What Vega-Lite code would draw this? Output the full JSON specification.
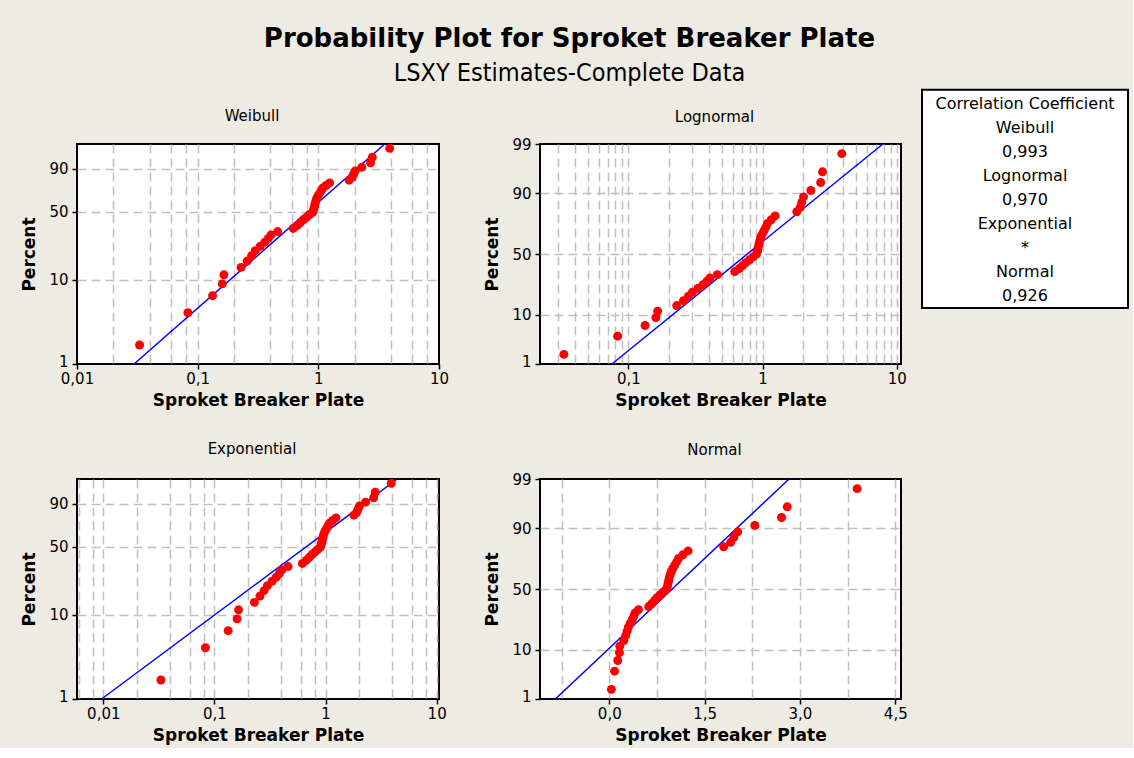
{
  "$schema": "https://vega.github.io/schema/vega-lite/v6.json",
  "background": "#eeebe2",
  "padding": {"left": 19, "top": 25, "right": 4, "bottom": 4},
  "title": {
    "text": "Probability Plot for Sproket Breaker Plate",
    "subtitle": "LSXY Estimates-Complete Data",
    "font": "DejaVu Sans", "fontSize": 26, "fontWeight": "bold", "color": "black",
    "subtitleFont": "DejaVu Sans Condensed, DejaVu Sans", "subtitleFontSize": 25, "subtitleColor": "black", "subtitleFontWeight": "normal",
    "subtitlePadding": 9, "anchor": "middle", "offset": 3, "dx": -5
  },
  "datasets": {
    "pts": [
      {"t":0.033,"pct":1.69,"w":-4.0714,"z":-2.1222},
      {"t":0.083,"pct":4.11,"w":-3.1717,"z":-1.7385},
      {"t":0.133,"pct":6.52,"w":-2.6966,"z":-1.5124},
      {"t":0.16,"pct":8.94,"w":-2.3685,"z":-1.3446},
      {"t":0.165,"pct":11.35,"w":-2.1161,"z":-1.208},
      {"t":0.229,"pct":13.77,"w":-1.9096,"z":-1.0908},
      {"t":0.257,"pct":16.18,"w":-1.7341,"z":-0.987},
      {"t":0.28,"pct":18.6,"w":-1.581,"z":-0.8928},
      {"t":0.3,"pct":21.01,"w":-1.4444,"z":-0.8059},
      {"t":0.33,"pct":23.43,"w":-1.3207,"z":-0.7248},
      {"t":0.36,"pct":25.85,"w":-1.2073,"z":-0.6481},
      {"t":0.385,"pct":28.26,"w":-1.1023,"z":-0.5751},
      {"t":0.405,"pct":30.68,"w":-1.0041,"z":-0.5051},
      {"t":0.46,"pct":33.09,"w":-0.9117,"z":-0.4374},
      {"t":0.62,"pct":35.51,"w":-0.8242,"z":-0.3717},
      {"t":0.67,"pct":37.92,"w":-0.7407,"z":-0.3075},
      {"t":0.71,"pct":40.34,"w":-0.6608,"z":-0.2446},
      {"t":0.75,"pct":42.75,"w":-0.5838,"z":-0.1827},
      {"t":0.8,"pct":45.17,"w":-0.5093,"z":-0.1214},
      {"t":0.85,"pct":47.58,"w":-0.437,"z":-0.0606},
      {"t":0.9,"pct":50,"w":-0.3665,"z":0},
      {"t":0.915,"pct":52.42,"w":-0.2974,"z":0.0606},
      {"t":0.925,"pct":54.83,"w":-0.2296,"z":0.1214},
      {"t":0.935,"pct":57.25,"w":-0.1627,"z":0.1827},
      {"t":0.945,"pct":59.66,"w":-0.0966,"z":0.2446},
      {"t":0.96,"pct":62.08,"w":-0.0308,"z":0.3075},
      {"t":0.975,"pct":64.49,"w":0.0348,"z":0.3717},
      {"t":1,"pct":66.91,"w":0.1007,"z":0.4374},
      {"t":1.03,"pct":69.32,"w":0.167,"z":0.5051},
      {"t":1.06,"pct":71.74,"w":0.234,"z":0.5751},
      {"t":1.09,"pct":74.15,"w":0.3022,"z":0.6481},
      {"t":1.16,"pct":76.57,"w":0.3723,"z":0.7248},
      {"t":1.24,"pct":78.99,"w":0.4447,"z":0.8059},
      {"t":1.8,"pct":81.4,"w":0.52,"z":0.8928},
      {"t":1.91,"pct":83.82,"w":0.5995,"z":0.987},
      {"t":1.96,"pct":86.23,"w":0.6846,"z":1.0908},
      {"t":2.02,"pct":88.65,"w":0.7774,"z":1.208},
      {"t":2.29,"pct":91.06,"w":0.8817,"z":1.3446},
      {"t":2.71,"pct":93.48,"w":1.0043,"z":1.5124},
      {"t":2.8,"pct":95.89,"w":1.1608,"z":1.7385},
      {"t":3.9,"pct":98.31,"w":1.4061,"z":2.1222}
    ],
    "fitW": [{"t":0.0297,"w":-4.6001},{"t":3.556,"w":1.5272}],
    "fitL": [{"t":0.0753,"z":-2.3263},{"t":7.89,"z":2.3263}],
    "fitE": [{"t":0.00965,"w":-4.6001},{"t":4.42,"w":1.5272}],
    "fitN": [{"t":-0.848,"z":-2.3263},{"t":2.828,"z":2.3263}],
    "legendBox": [{"top": -0.583, "bottom": 8.512}],
    "legend": [
      {"k":0,"label":"Correlation Coefficient"},
      {"k":1,"label":"Weibull"},
      {"k":2,"label":"0,993"},
      {"k":3,"label":"Lognormal"},
      {"k":4,"label":"0,970"},
      {"k":5,"label":"Exponential"},
      {"k":6,"label":"*"},
      {"k":7,"label":"Normal"},
      {"k":8,"label":"0,926"}
    ]
  },
  "spacing": 12,
  "hconcat": [
    {
      "columns": 2,
      "spacing": {"row": 32, "column": 32},
      "concat": [
        {
          "width": 362, "height": 220,
          "title": {"text": "Weibull", "offset": 17},
          "encoding": {
            "x": {"field": "t", "type": "quantitative",
              "scale": {"type": "log", "domain": [0.01, 10], "nice": false},
              "axis": {"title": "Sproket Breaker Plate",
                "values": [0.01,0.02,0.04,0.06,0.08,0.1,0.2,0.4,0.6,0.8,1,2,4,6,8,10],
                "labelExpr": "datum.value == 0.01 ? '0,01' : datum.value == 0.1 ? '0,1' : datum.value == 1 ? '1' : datum.value == 10 ? '10' : ''",
                "tickOpacity": {"condition": {"test": "indexof([0.01,0.1,1,10], datum.value) >= 0", "value": 1}, "value": 0},
                "gridOpacity": {"condition": {"test": "datum.value == 0.01 || datum.value == 10", "value": 0}, "value": 1}}},
            "y": {"field": "w", "type": "quantitative",
              "scale": {"domain": [-4.6001, 1.5272], "nice": false, "zero": false},
              "axis": {"title": "Percent",
                "values": [-4.6001, -2.2504, -0.3665, 0.834],
                "labelExpr": "datum.value < -4 ? '1' : datum.value < -2 ? '10' : datum.value < 0 ? '50' : '90'",
                "labelOffset": {"condition": {"test": "datum.value < -4", "value": -3}, "value": 0},
                "gridOpacity": {"condition": {"test": "datum.value < -4", "value": 0}, "value": 1}}}
          },
          "layer": [
            {"data": {"name": "fitW"}, "mark": {"type": "line", "color": "#0000ff", "strokeWidth": 1.5}, "encoding": {}},
            {"data": {"name": "pts"}, "mark": {"type": "circle", "color": "#ff0000", "size": 80, "opacity": 1}}
          ]
        },
        {
          "width": 361, "height": 220,
          "title": {"text": "Lognormal", "offset": 12},
          "encoding": {
            "x": {"field": "t", "type": "quantitative",
              "scale": {"type": "log", "domain": [0.0219, 10.77], "nice": false},
              "axis": {"title": "Sproket Breaker Plate",
                "values": [0.03,0.04,0.05,0.06,0.07,0.08,0.09,0.1,0.2,0.3,0.4,0.5,0.6,0.7,0.8,0.9,1,2,3,4,5,6,7,8,9,10],
                "labelExpr": "datum.value == 0.1 ? '0,1' : datum.value == 1 ? '1' : datum.value == 10 ? '10' : ''",
                "tickOpacity": {"condition": {"test": "indexof([0.1,1,10], datum.value) >= 0", "value": 1}, "value": 0}}},
            "y": {"field": "z", "type": "quantitative",
              "scale": {"domain": [-2.3263, 2.3263], "nice": false, "zero": false},
              "axis": {"title": "Percent",
                "values": [-2.3263, -1.2816, 0, 1.2816, 2.3263],
                "labelExpr": "datum.value < -2 ? '1' : datum.value < -1 ? '10' : datum.value < 1 ? '50' : datum.value < 2 ? '90' : '99'",
                "labelOffset": {"condition": {"test": "datum.value < -2", "value": -3}, "value": 0},
                "gridOpacity": {"condition": {"test": "abs(datum.value) > 2", "value": 0}, "value": 1}}}
          },
          "layer": [
            {"data": {"name": "fitL"}, "mark": {"type": "line", "color": "#0000ff", "strokeWidth": 1.5}, "encoding": {}},
            {"data": {"name": "pts"}, "mark": {"type": "circle", "color": "#ff0000", "size": 80, "opacity": 1}}
          ]
        },
        {
          "width": 362, "height": 220,
          "title": {"text": "Exponential", "offset": 19},
          "encoding": {
            "x": {"field": "t", "type": "quantitative",
              "scale": {"type": "log", "domain": [0.0058, 10.5], "nice": false},
              "axis": {"title": "Sproket Breaker Plate",
                "values": [0.006,0.008,0.01,0.02,0.04,0.06,0.08,0.1,0.2,0.4,0.6,0.8,1,2,4,6,8,10],
                "labelExpr": "datum.value == 0.01 ? '0,01' : datum.value == 0.1 ? '0,1' : datum.value == 1 ? '1' : datum.value == 10 ? '10' : ''",
                "tickOpacity": {"condition": {"test": "indexof([0.01,0.1,1,10], datum.value) >= 0", "value": 1}, "value": 0}}},
            "y": {"field": "w", "type": "quantitative",
              "scale": {"domain": [-4.6001, 1.5272], "nice": false, "zero": false},
              "axis": {"title": "Percent",
                "values": [-4.6001, -2.2504, -0.3665, 0.834],
                "labelExpr": "datum.value < -4 ? '1' : datum.value < -2 ? '10' : datum.value < 0 ? '50' : '90'",
                "labelOffset": {"condition": {"test": "datum.value < -4", "value": -3}, "value": 0},
                "gridOpacity": {"condition": {"test": "datum.value < -4", "value": 0}, "value": 1}}}
          },
          "layer": [
            {"data": {"name": "fitE"}, "mark": {"type": "line", "color": "#0000ff", "strokeWidth": 1.5}, "encoding": {}},
            {"data": {"name": "pts"}, "mark": {"type": "circle", "color": "#ff0000", "size": 80, "opacity": 1}}
          ]
        },
        {
          "width": 361, "height": 220,
          "title": {"text": "Normal", "offset": 14},
          "encoding": {
            "x": {"field": "t", "type": "quantitative",
              "scale": {"domain": [-1.09, 4.59], "nice": false, "zero": false},
              "axis": {"title": "Sproket Breaker Plate",
                "values": [-0.75,0,0.75,1.5,2.25,3,3.75,4.5],
                "labelExpr": "datum.value == 0 ? '0,0' : datum.value == 1.5 ? '1,5' : datum.value == 3 ? '3,0' : datum.value == 4.5 ? '4,5' : ''",
                "tickOpacity": {"condition": {"test": "indexof([0,1.5,3,4.5], datum.value) >= 0", "value": 1}, "value": 0}}},
            "y": {"field": "z", "type": "quantitative",
              "scale": {"domain": [-2.3263, 2.3263], "nice": false, "zero": false},
              "axis": {"title": "Percent",
                "values": [-2.3263, -1.2816, 0, 1.2816, 2.3263],
                "labelExpr": "datum.value < -2 ? '1' : datum.value < -1 ? '10' : datum.value < 1 ? '50' : datum.value < 2 ? '90' : '99'",
                "labelOffset": {"condition": {"test": "datum.value < -2", "value": -3}, "value": 0},
                "gridOpacity": {"condition": {"test": "abs(datum.value) > 2", "value": 0}, "value": 1}}}
          },
          "layer": [
            {"data": {"name": "fitN"}, "mark": {"type": "line", "color": "#0000ff", "strokeWidth": 1.5}, "encoding": {}},
            {"data": {"name": "pts"}, "mark": {"type": "circle", "color": "#ff0000", "size": 80, "opacity": 1}}
          ]
        }
      ]
    },
    {
      "width": 206, "height": 164,
      "view": {"fill": null, "stroke": null},
      "layer": [
        {
          "data": {"name": "legendBox"},
          "mark": {"type": "rect", "fill": "white", "stroke": "black", "strokeWidth": 2},
          "encoding": {
            "y": {"field": "top", "type": "quantitative", "axis": null,
              "scale": {"domain": [1.679, 8.512], "nice": false, "zero": false, "reverse": true}},
            "y2": {"field": "bottom"}
          }
        },
        {
          "data": {"name": "legend"},
          "mark": {"type": "text", "font": "DejaVu Sans", "fontSize": 16, "color": "black"},
          "encoding": {
            "y": {"field": "k", "type": "quantitative", "axis": null},
            "text": {"field": "label"}
          }
        }
      ]
    }
  ],
  "config": {
    "view": {"fill": "white", "stroke": "black", "strokeWidth": 2},
    "title": {"font": "DejaVu Sans", "fontSize": 15, "fontWeight": "normal", "color": "black", "dx": -6},
    "axis": {"domain": false, "labelFont": "DejaVu Sans", "labelFontSize": 15, "labelColor": "black",
      "titleFont": "DejaVu Sans", "titleFontSize": 17, "titleFontWeight": "bold", "titleColor": "black",
      "tickColor": "black", "tickWidth": 1.5, "tickSize": 5,
      "gridColor": "#c0c0c0", "gridDash": [9, 5], "gridWidth": 1.5,
      "labelFlush": false, "labelOverlap": false},
    "axisX": {"labelPadding": 2, "titlePadding": 6},
    "axisY": {"labelPadding": 4, "titlePadding": 10}
  }
}
